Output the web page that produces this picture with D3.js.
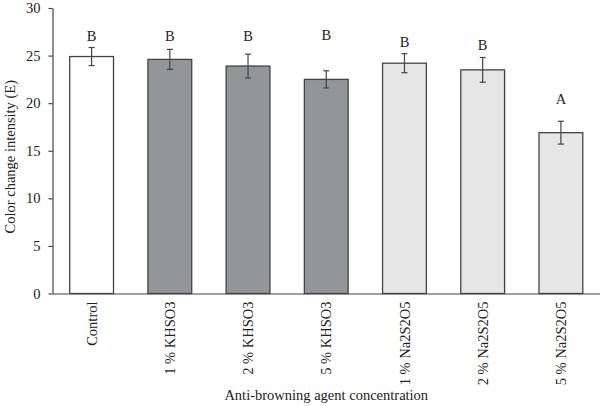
<!DOCTYPE html>
<html>
<head>
<meta charset="utf-8">
<script src="https://cdn.jsdelivr.net/npm/d3@7/dist/d3.min.js"></script>
<style>
  html, body { margin: 0; padding: 0; background: #fff; }
  svg { display: block; }
  text { font-family: "Liberation Serif", "Times New Roman", serif; fill: #222; }
</style>
</head>
<body>
<svg id="chart" width="600" height="406"></svg>
<script>
const categories = ["Control", "1 % KHSO3", "2 % KHSO3", "5 % KHSO3", "1 % Na2S2O5", "2 % Na2S2O5", "5 % Na2S2O5"];
const groups = ["control", "KHSO3", "KHSO3", "KHSO3", "Na2S2O5", "Na2S2O5", "Na2S2O5"];
const values = [24.9, 24.6, 23.9, 22.5, 24.2, 23.5, 16.9];
const errors = [0.95, 1.05, 1.25, 0.9, 1.0, 1.3, 1.2];
const letters = ["B", "B", "B", "B", "B", "B", "A"];
const letterValues = [26.5, 26.5, 26.5, 26.6, 25.9, 25.6, 19.9];
const yTicks = [0, 5, 10, 15, 20, 25, 30];

const fills = { control: "#ffffff", KHSO3: "#939598", Na2S2O5: "#e6e6e6" };
const FONT = "Liberation Serif, Times New Roman, serif";
const FS = 14.5;

const svg = d3.select("#chart");
const margin = { left: 52.5, right: 0, top: 8, bottom: 112.5 };
const W = 600, H = 406;

const x = d3.scaleBand()
  .domain(categories)
  .range([margin.left, W - margin.right])
  .paddingInner(0.44)
  .paddingOuter(0.22);

const y = d3.scaleLinear()
  .domain([0, 30])
  .range([H - margin.bottom, margin.top]);

// bars
svg.append("g").selectAll("rect")
  .data(categories)
  .join("rect")
  .attr("x", d => x(d))
  .attr("y", (d, i) => y(values[i]))
  .attr("width", x.bandwidth())
  .attr("height", (d, i) => y(0) - y(values[i]))
  .attr("fill", (d, i) => fills[groups[i]])
  .attr("stroke", "#444")
  .attr("stroke-width", 1.3);

// error bars
const eb = svg.append("g").attr("stroke", "#444").attr("stroke-width", 1.2);
categories.forEach((c, i) => {
  const cx = x(c) + x.bandwidth() / 2;
  const hi = y(values[i] + errors[i]);
  const lo = y(values[i] - errors[i]);
  eb.append("line").attr("x1", cx).attr("x2", cx).attr("y1", hi).attr("y2", lo);
  eb.append("line").attr("x1", cx - 3).attr("x2", cx + 3).attr("y1", hi).attr("y2", hi);
  eb.append("line").attr("x1", cx - 3).attr("x2", cx + 3).attr("y1", lo).attr("y2", lo);
});

// letters
svg.append("g").selectAll("text")
  .data(categories)
  .join("text")
  .attr("x", d => x(d) + x.bandwidth() / 2)
  .attr("y", (d, i) => y(letterValues[i]))
  .attr("text-anchor", "middle")
  .attr("font-size", FS)
  .text((d, i) => letters[i]);

// y axis
const yAxis = svg.append("g")
  .attr("transform", `translate(${margin.left},0)`)
  .call(d3.axisLeft(y).tickValues(yTicks).tickSize(4).tickPadding(8).tickSizeOuter(0));
yAxis.attr("font-family", FONT);
yAxis.select(".domain").attr("stroke", "#444").attr("stroke-width", 1.2);
yAxis.selectAll(".tick line").attr("stroke", "#444").attr("stroke-width", 1.2);
yAxis.selectAll(".tick text").attr("font-size", FS).attr("fill", "#222");

// x axis
const xAxis = svg.append("g")
  .attr("transform", `translate(0,${y(0)})`)
  .call(d3.axisBottom(x).tickSize(0).tickPadding(0).tickSizeOuter(0));
xAxis.attr("font-family", FONT);
xAxis.select(".domain").attr("stroke", "#444").attr("stroke-width", 1.2);
xAxis.selectAll(".tick text")
  .attr("font-size", FS)
  .attr("fill", "#222")
  .attr("text-anchor", "end")
  .attr("transform", "rotate(-90)")
  .attr("x", -8)
  .attr("y", 0)
  .attr("dy", "0.35em");

// axis titles
svg.append("text")
  .attr("x", (margin.left + W - margin.right) / 2)
  .attr("y", 400)
  .attr("text-anchor", "middle")
  .attr("font-size", FS)
  .text("Anti-browning agent concentration");

svg.append("text")
  .attr("transform", `translate(15,${(y(0) + y(30)) / 2 + 6}) rotate(-90)`)
  .attr("text-anchor", "middle")
  .attr("font-size", FS)
  .text("Color change intensity (E)");
</script>
</body>
</html>
